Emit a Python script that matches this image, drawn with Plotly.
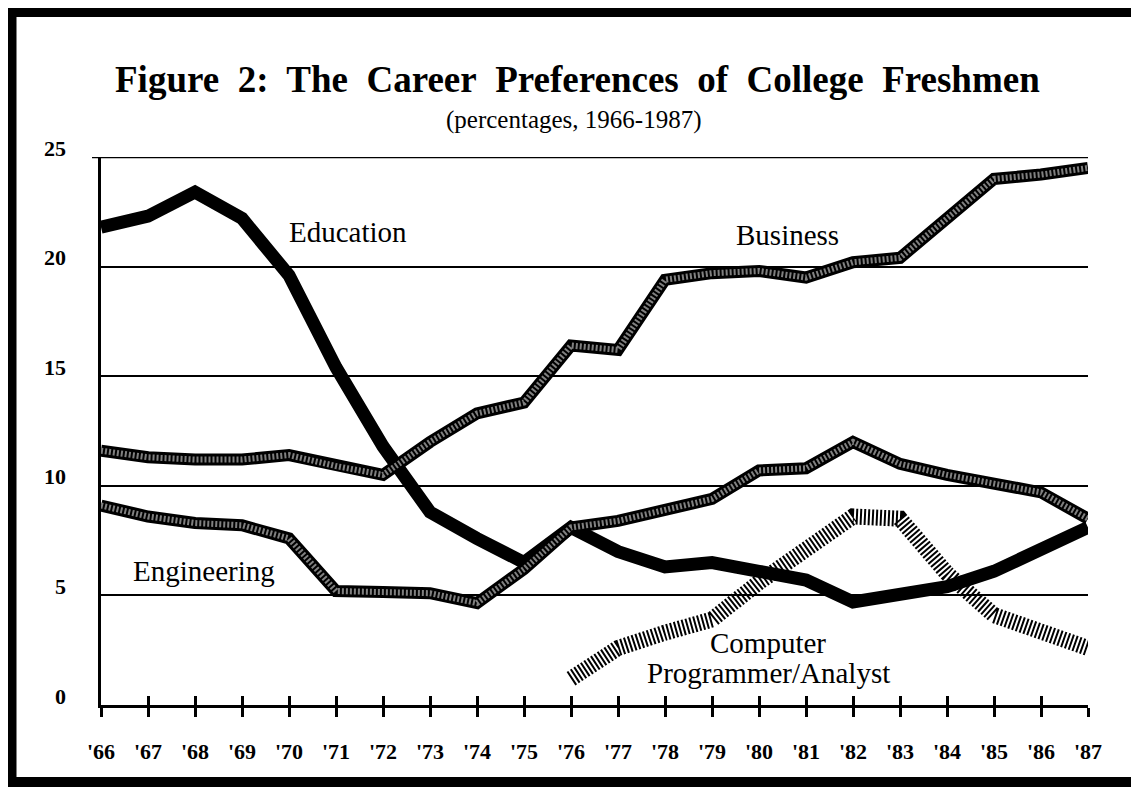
import plotly.graph_objects as go

years = [1966, 1967, 1968, 1969, 1970, 1971, 1972, 1973, 1974, 1975, 1976,
         1977, 1978, 1979, 1980, 1981, 1982, 1983, 1984, 1985, 1986, 1987]
tick_labels = ["'66", "'67", "'68", "'69", "'70", "'71", "'72", "'73", "'74", "'75", "'76",
               "'77", "'78", "'79", "'80", "'81", "'82", "'83", "'84", "'85", "'86", "'87"]
education = [21.8, 22.3, 23.4, 22.2, 19.6, 15.4, 11.8, 8.8, 7.6, 6.5, 8.1,
             7.0, 6.3, 6.5, 6.1, 5.7, 4.7, 5.0, 5.4, 6.1, 7.1, 8.1]
business = [11.6, 11.3, 11.2, 11.2, 11.4, 10.9, 10.5, 12.0, 13.3, 13.8, 16.4,
            16.2, 19.4, 19.7, 19.8, 19.5, 20.2, 20.4, 22.2, 24.0, 24.2, 24.5]
engineering = [9.1, 8.6, 8.3, 8.2, 7.6, 5.2, 5.15, 5.1, 4.65, 6.2, 8.1,
               8.4, 8.9, 9.4, 10.7, 10.8, 12.0, 11.0, 10.5, 10.1, 9.7, 8.5]
computer_years = [1976, 1977, 1978, 1979, 1980, 1981, 1982, 1983, 1984, 1985, 1986, 1987]
computer = [1.2, 2.6, 3.3, 3.9, 5.6, 7.1, 8.6, 8.5, 6.0, 4.1, 3.3, 2.6]
y_ticks = [0, 5, 10, 15, 20, 25]
y_tick_labels = ["0", "5", "10", "15", "20", "25"]

SERIF = "Liberation Serif, Times New Roman, serif"

# page body has an 8px margin: the figure is drawn 8px smaller and everything is offset
W, H = 1131, 779
ML, MR, MT, MB = 93, 51, 149, 82
PW, PH = W - ML - MR, H - MT - MB

fig = go.Figure()

fig.add_trace(go.Scatter(x=years, y=education, mode="lines",
                         line=dict(color="black", width=13), hoverinfo="skip"))
fig.add_trace(go.Scatter(x=years, y=engineering, mode="lines",
                         line=dict(color="black", width=12), hoverinfo="skip"))
fig.add_trace(go.Scatter(x=years, y=engineering, mode="lines",
                         line=dict(color="#808080", width=6, dash="2px,2px"), hoverinfo="skip"))
fig.add_trace(go.Scatter(x=years, y=business, mode="lines",
                         line=dict(color="black", width=12), hoverinfo="skip"))
fig.add_trace(go.Scatter(x=years, y=business, mode="lines",
                         line=dict(color="#808080", width=6, dash="2px,2px"), hoverinfo="skip"))
fig.add_trace(go.Scatter(x=computer_years, y=computer, mode="lines",
                         line=dict(color="black", width=16, dash="2px,2px"), hoverinfo="skip"))

# overlay axis for the inward half of the cross ticks
fig.add_trace(go.Scatter(x=[years[0], years[-1]], y=[None, None], xaxis="x2",
                         mode="lines", showlegend=False, hoverinfo="skip"))

labels = [
    ("Education", 1971.25, 21.6),
    ("Business", 1980.6, 21.45),
    ("Engineering", 1968.2, 6.1),
    ("Computer", 1980.2, 2.83),
    ("Programmer/Analyst", 1980.2, 1.46),
]
for txt, lx, ly in labels:
    fig.add_annotation(x=lx, y=ly, text=txt, showarrow=False,
                       font=dict(family=SERIF, size=29, color="black"),
                       xanchor="center", yanchor="middle")

for v, t in zip(y_ticks, y_tick_labels):
    fig.add_annotation(x=0, y=v, xref="paper", yref="y", text=t, showarrow=False,
                       xanchor="right", yanchor="middle", xshift=-33, yshift=9,
                       font=dict(family=SERIF, size=22, color="black", weight="bold"))

title_words = ["Figure", "2:", "The", "Career", "Preferences", "of", "College", "Freshmen"]
fig.add_annotation(x=(569 - ML) / PW, y=(H - MB - 72) / PH, xref="paper", yref="paper",
                   text="<b>" + "&nbsp; ".join(title_words) + "</b>",
                   showarrow=False, font=dict(family=SERIF, size=37, color="black"),
                   xanchor="center", yanchor="middle")
fig.add_annotation(x=(565 - ML) / PW, y=(H - MB - 112) / PH, xref="paper", yref="paper",
                   text="(percentages, 1966-1987)",
                   showarrow=False, font=dict(family=SERIF, size=25, color="black"),
                   xanchor="center", yanchor="middle")

# gridline at the top of the range (not drawn by the axis itself)
fig.add_shape(type="line", xref="paper", yref="y", x0=-9 / PW, x1=1, y0=25, y1=25,
              line=dict(color="black", width=2.5))

# frame around the figure
fig.add_shape(type="rect", xref="paper", yref="paper",
              x0=(3.5 - ML) / PW, x1=(1128 - ML) / PW,
              y0=(H - MB - 774) / PH, y1=(H - MB - 4) / PH,
              line=dict(color="black", width=10))

fig.update_layout(
    width=W, height=H,
    margin=dict(l=ML, r=MR, t=MT, b=MB),
    paper_bgcolor="white", plot_bgcolor="white",
    showlegend=False,
    xaxis=dict(range=[years[0], years[-1]], tickmode="array", tickvals=years,
               ticktext=tick_labels, showgrid=False, zeroline=False,
               showline=True, linecolor="black", linewidth=2.5,
               ticks="outside", ticklen=9, tickwidth=2.5, tickcolor="black",
               ticklabelstandoff=16,
               tickfont=dict(family=SERIF, size=22, color="black", weight="bold")),
    xaxis2=dict(range=[years[0], years[-1]], overlaying="x", tickmode="array",
                tickvals=years, showticklabels=False, showgrid=False, zeroline=False,
                ticks="inside", ticklen=9, tickwidth=2.5, tickcolor="black",
                side="bottom", anchor="y"),
    yaxis=dict(range=[0, 25], tickmode="array", tickvals=y_ticks,
               showticklabels=False,
               showgrid=True, gridcolor="black", gridwidth=2,
               zeroline=False, showline=True, linecolor="black", linewidth=2.5,
               ticks=""),
)

fig.write_html("out.html")
